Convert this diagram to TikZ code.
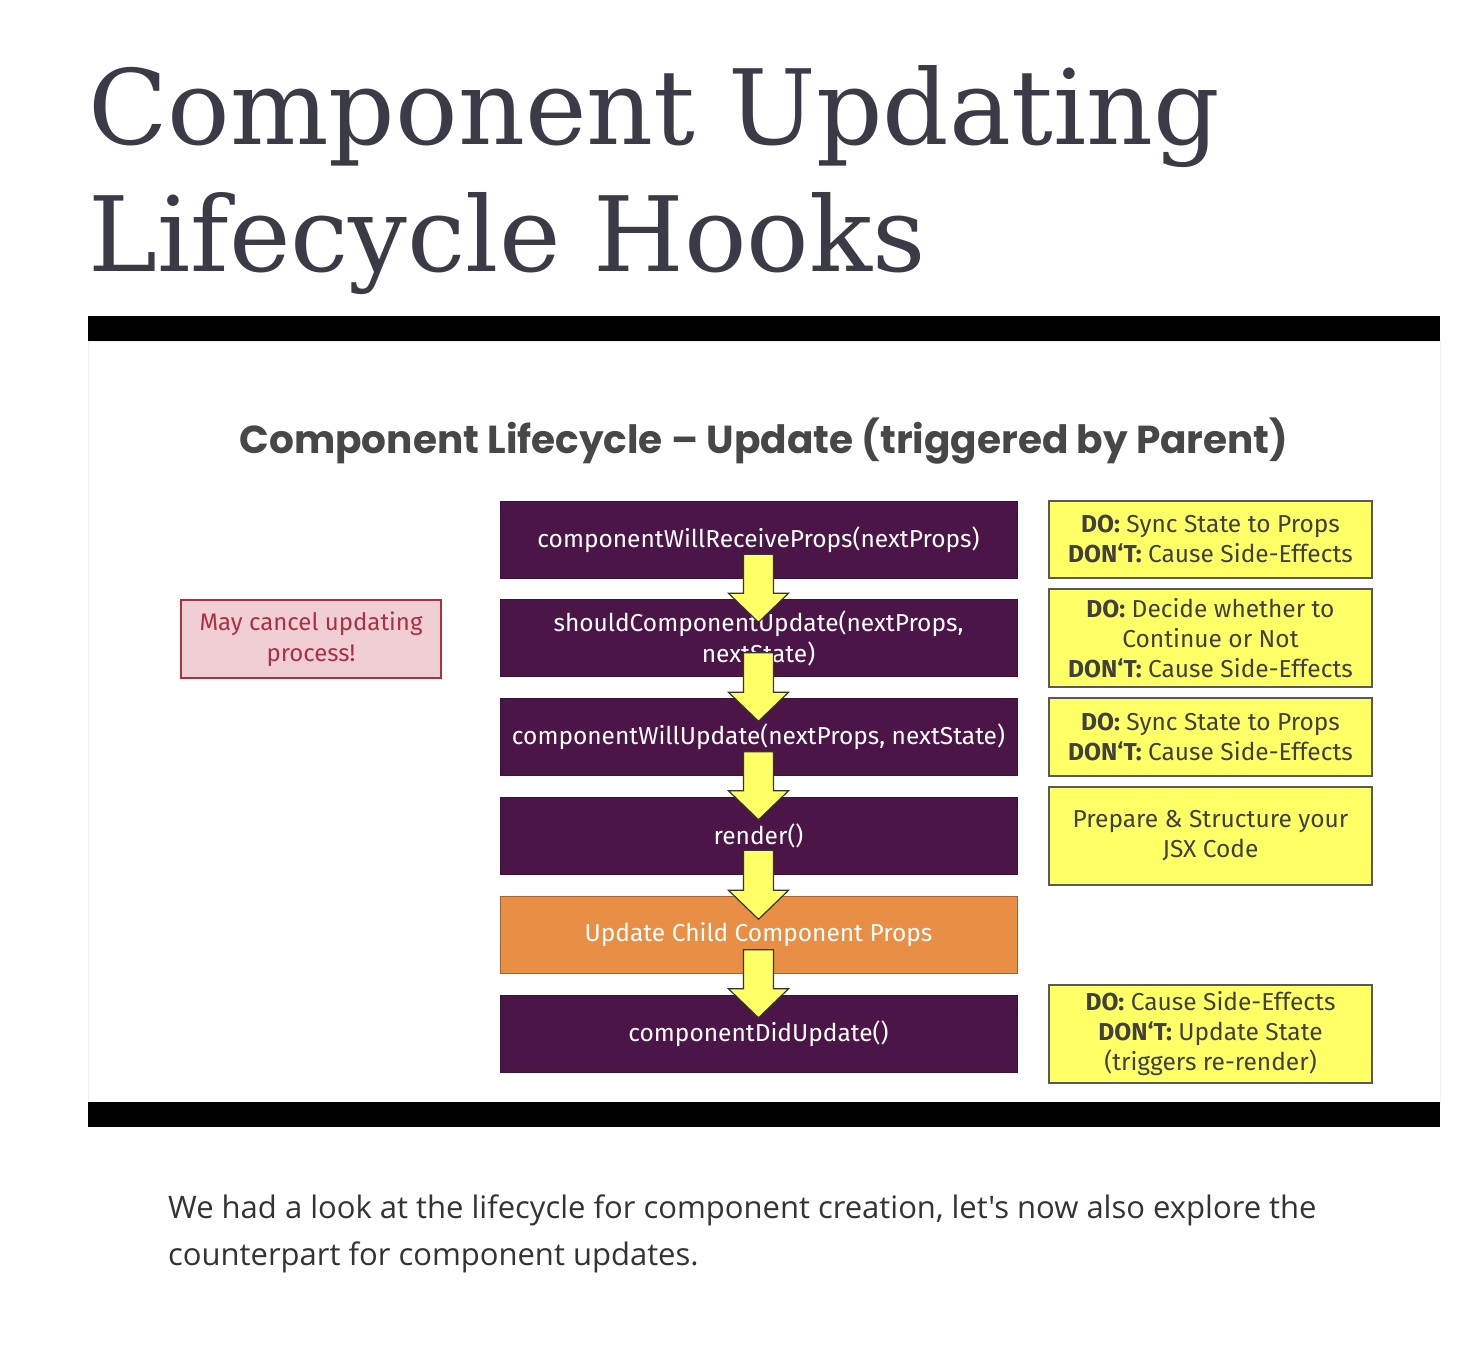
\documentclass[tikz,border=0pt]{standalone}
\usepackage{fontspec}
\setmainfont{Fira Sans}
\newfontfamily\headfont{DejaVu Serif}
\newfontfamily\slidefont{Poppins}
\newfontfamily\bodyfont{Open Sans}
\usetikzlibrary{arrows.meta, positioning, calc}

\definecolor{headgray}{HTML}{3B3B48}
\definecolor{slidegray}{HTML}{474747}
\definecolor{plum}{HTML}{4B1548}
\definecolor{tangerine}{HTML}{E98E45}
\definecolor{lemon}{HTML}{FFFF66}
\definecolor{blush}{HTML}{EFCFD3}
\definecolor{rosered}{HTML}{AC3044}

\tikzset{
  hookbox/.style={rectangle, draw=plum!80!black, fill=plum, text=white,
    minimum width=517pt, minimum height=77pt, align=center, inner sep=0pt,
    font=\fontsize{24.5}{31}\selectfont},
  childbox/.style={hookbox, fill=tangerine, draw=tangerine!70!black},
  notebox/.style={rectangle, draw=black!65, line width=1.2pt, fill=lemon,
    text=black!75, minimum width=323pt, align=center, inner sep=0pt,
    font=\fontsize{24.5}{30}\selectfont},
  cancelbox/.style={rectangle, draw=rosered, line width=1.2pt, fill=blush,
    text=rosered, minimum width=260pt, minimum height=78pt, align=center,
    inner sep=0pt, font=\fontsize{24}{31}\selectfont},
  flow/.style={draw=black!80, line width=1.2pt, fill=lemon, line join=miter}
}

% block arrow from the lower part of one box into the next one
\newcommand{\flowarrow}[2]{%
  \draw[flow] ($(#1.south)+(-15,-24)$) -- ($(#1.south)+(15,-24)$)
    -- ($(#2.north)+(15,-6)$) -- ($(#2.north)+(30,-6)$)
    -- ($(#2.north)+(0,23)$) -- ($(#2.north)+(-30,-6)$)
    -- ($(#2.north)+(-15,-6)$) -- cycle;}

\begin{document}
\begin{tikzpicture}[x=1pt, y=-1pt]
  \useasboundingbox[fill=white] (0,0) rectangle (1476,1348);

  % page heading
  \node[anchor=base west, text=headgray, inner sep=0pt,
    font=\headfont\fontsize{104}{127}\selectfont] (heading1) at (88,145) {Component Updating};
  \node[anchor=base west, text=headgray, inner sep=0pt,
    font=\headfont\fontsize{104}{127}\selectfont] (heading2) at (88,272) {Lifecycle Hooks};

  % slide frame
  \draw[black!6, fill=white] (88,341) rectangle (1440,1102);
  \fill[black] (88,316) rectangle (1440,341);
  \fill[black] (88,1102) rectangle (1440,1127);

  \node[anchor=base, text=slidegray, inner sep=0pt,
    font=\slidefont\bfseries\fontsize{39}{45}\selectfont] (slidetitle) at (764,453)
    {Component Lifecycle – Update (triggered by Parent)};

  % hooks
  \node[hookbox] (willreceive) at (758.5,539.5) {componentWillReceiveProps(nextProps)};
  \node[hookbox] (shouldupdate) at (758.5,638) {shouldComponentUpdate(nextProps,\\nextState)};
  \node[hookbox] (willupdate) at (758.5,737) {componentWillUpdate(nextProps, nextState)};
  \node[hookbox] (render) at (758.5,835.5) {render()};
  \node[childbox] (childprops) at (758.5,935) {Update Child Component Props};
  \node[hookbox] (didupdate) at (758.5,1033.5) {componentDidUpdate()};

  % notes
  \node[notebox, minimum height=77pt] (note1) at (1210.5,539.5)
    {\textbf{DO:} Sync State to Props\\\textbf{DON‘T:} Cause Side-Effects};
  \node[notebox, minimum height=98pt] (note2) at (1210.5,638)
    {\textbf{DO:} Decide whether to\\Continue or Not\\\textbf{DON‘T:} Cause Side-Effects};
  \node[notebox, minimum height=78pt] (note3) at (1210.5,737)
    {\textbf{DO:} Sync State to Props\\\textbf{DON‘T:} Cause Side-Effects};
  \node[notebox, minimum height=98pt] (note4) at (1210.5,836)
    {Prepare \& Structure your\\JSX Code};
  \node[notebox, minimum height=98pt] (note5) at (1210.5,1034)
    {\textbf{DO:} Cause Side-Effects\\\textbf{DON‘T:} Update State\\(triggers re-render)};

  \node[cancelbox] (cancel) at (311,639) {May cancel updating\\process!};

  % arrows
  \flowarrow{willreceive}{shouldupdate}
  \flowarrow{shouldupdate}{willupdate}
  \flowarrow{willupdate}{render}
  \flowarrow{render}{childprops}
  \flowarrow{childprops}{didupdate}

  % closing text
  \node[anchor=base west, text=black!80, inner sep=0pt, align=left,
    font=\bodyfont\fontsize{31}{47}\selectfont] (caption) at (168,1265)
    {We had a look at the lifecycle for component creation, let's now also explore the\\counterpart for component updates.};
\end{tikzpicture}
\end{document}
